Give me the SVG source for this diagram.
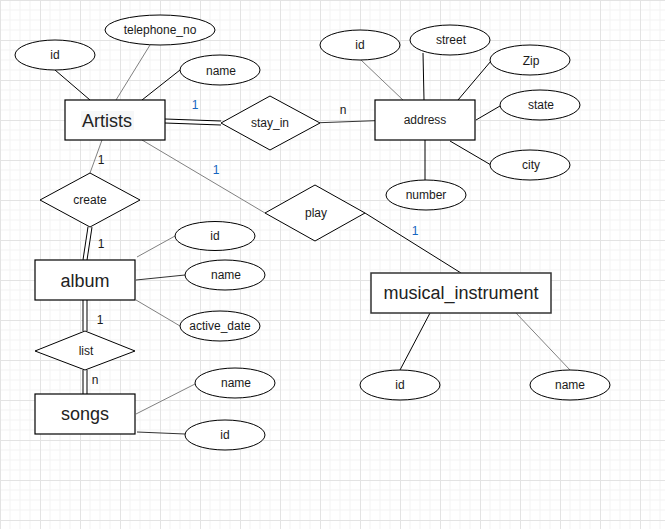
<svg xmlns="http://www.w3.org/2000/svg" width="665" height="529" viewBox="0 0 665 529">
<defs>
<pattern id="grid" x="0" y="0" width="40" height="40" patternUnits="userSpaceOnUse">
<rect width="40" height="40" fill="#ffffff"/>
<path d="M10 0V40M20 0V40M30 0V40M0 10H40M0 20H40M0 30H40" stroke="#f3f3f3" stroke-width="1" fill="none"/>
<path d="M0.5 0V40M0 0.5H40" stroke="#e3e3e3" stroke-width="1" fill="none"/>
</pattern>
<style>
text{font-family:"Liberation Sans",Arial,sans-serif;text-anchor:middle;dominant-baseline:central;fill:#1a1a1a}
.attr ellipse{fill:#fff;stroke:#000;stroke-width:1}
.attr text{font-size:12px}
.ent rect{fill:#fff;stroke:#000;stroke-width:1.2}
.ent text{font-size:18px;fill:#222}
.ent rect.hl{fill:#f6f7f8;stroke:none}
.rel polygon{fill:#fff;stroke:#000;stroke-width:1}
.rel text{font-size:12px}
.b{stroke:#000;stroke-width:1;fill:none}
.g{stroke:#808080;stroke-width:1;fill:none}
.d{stroke:#333;stroke-width:1;fill:none}
.dbo{stroke:#000;stroke-width:5;fill:none}
.dbi{stroke:#fff;stroke-width:3;fill:none}
.lbl{font-size:12px}
.blue{fill:#1565c0}
</style>
</defs>
<rect width="665" height="529" fill="url(#grid)"/>

<g id="connectors">
<line class="b" x1="55" y1="70" x2="90" y2="100"/>
<line class="g" x1="150" y1="45" x2="116" y2="100"/>
<line class="b" x1="180" y1="70" x2="142" y2="100"/>
<path class="dbo" d="M165 121L221 123"/>
<path class="dbi" d="M165 121L221 123"/>
<line class="d" x1="320" y1="122.7" x2="375" y2="120.7"/>
<line class="g" x1="361" y1="60" x2="403" y2="100"/>
<line class="b" x1="423" y1="53" x2="424" y2="100"/>
<line class="b" x1="491" y1="61" x2="458" y2="100"/>
<line class="b" x1="500" y1="106" x2="476" y2="120"/>
<line class="b" x1="450" y1="141" x2="491" y2="165"/>
<line class="b" x1="425" y1="140" x2="425" y2="180"/>
<line class="g" x1="102" y1="140" x2="90" y2="173"/>
<line class="g" x1="142" y1="140" x2="265" y2="213"/>
<line class="b" x1="365" y1="213" x2="461" y2="273"/>
<path class="dbo" d="M90 227L85 260"/>
<path class="dbi" d="M90 227L85 260"/>
<line class="g" x1="137" y1="257" x2="175" y2="236"/>
<line class="d" x1="136" y1="280" x2="185" y2="275"/>
<line class="g" x1="136" y1="300" x2="180" y2="326"/>
<path class="dbo" d="M85 300L85 331"/>
<path class="dbi" d="M85 300L85 331"/>
<path class="dbo" d="M85 370L85 394"/>
<path class="dbi" d="M85 370L85 394"/>
<line class="g" x1="136" y1="414" x2="195" y2="384"/>
<line class="d" x1="137" y1="432" x2="185" y2="434"/>
<line class="b" x1="430" y1="313" x2="400" y2="370"/>
<line class="g" x1="516" y1="313" x2="570" y2="370"/>
<text class="lbl blue" x="195" y="105">1</text>
<text class="lbl" x="343" y="110">n</text>
<text class="lbl" x="101" y="160">1</text>
<text class="lbl blue" x="216" y="170">1</text>
<text class="lbl blue" x="415" y="231">1</text>
<text class="lbl" x="101" y="244">1</text>
<text class="lbl" x="100" y="320">1</text>
<text class="lbl" x="95" y="380">n</text>
</g>

<g id="artists" class="ent"><rect x="65" y="100" width="100" height="40"/><rect class="hl" x="81" y="111" width="53" height="19"/><text x="107" y="121">Artists</text></g>
<g id="artists_id" class="attr"><ellipse cx="55" cy="55" rx="40" ry="15"/><text x="55" y="55">id</text></g>
<g id="artists_telephone" class="attr"><ellipse cx="160" cy="30" rx="55" ry="15"/><text x="160" y="30">telephone_no</text></g>
<g id="artists_name" class="attr"><ellipse cx="220" cy="70" rx="40" ry="15"/><text x="221" y="71">name</text></g>

<g id="stay_in" class="rel"><polygon points="221,123 270,96 320,123 270,150"/><text x="270" y="123">stay_in</text></g>

<g id="address" class="ent"><rect x="375" y="100" width="100" height="40"/><text x="425" y="120" style="font-size:12px">address</text></g>
<g id="address_id" class="attr"><ellipse cx="360" cy="45" rx="40" ry="15"/><text x="360" y="45">id</text></g>
<g id="address_street" class="attr"><ellipse cx="450" cy="40" rx="40" ry="15"/><text x="451" y="40">street</text></g>
<g id="address_zip" class="attr"><ellipse cx="530" cy="60" rx="40" ry="15"/><text x="531" y="61">Zip</text></g>
<g id="address_state" class="attr"><ellipse cx="540" cy="105" rx="40" ry="15"/><text x="541" y="105">state</text></g>
<g id="address_city" class="attr"><ellipse cx="530" cy="165" rx="40" ry="15"/><text x="531" y="165">city</text></g>
<g id="address_number" class="attr"><ellipse cx="426" cy="195" rx="40" ry="15"/><text x="426" y="195">number</text></g>

<g id="create" class="rel"><polygon points="40,200 90,173 140,200 90,227"/><text x="90" y="200">create</text></g>
<g id="play" class="rel"><polygon points="265,213 315,185 365,213 315,241"/><text x="316" y="213">play</text></g>

<g id="album" class="ent"><rect x="35" y="260" width="100" height="40"/><text x="85" y="281">album</text></g>
<g id="album_id" class="attr"><ellipse cx="215" cy="236" rx="40" ry="14.5"/><text x="215" y="236">id</text></g>
<g id="album_name" class="attr"><ellipse cx="225" cy="275" rx="40" ry="15"/><text x="226" y="275">name</text></g>
<g id="album_active_date" class="attr"><ellipse cx="220" cy="326" rx="40" ry="15"/><text x="220" y="326">active_date</text></g>

<g id="list" class="rel"><polygon points="35,351 85,331 135,351 85,370"/><text x="86" y="351">list</text></g>

<g id="songs" class="ent"><rect x="35" y="394" width="100" height="40"/><text x="85" y="414">songs</text></g>
<g id="songs_name" class="attr"><ellipse cx="235" cy="383" rx="40" ry="15"/><text x="236" y="383">name</text></g>
<g id="songs_id" class="attr"><ellipse cx="225" cy="435" rx="40" ry="15"/><text x="225" y="435">id</text></g>

<g id="musical_instrument" class="ent"><rect x="371" y="273" width="180" height="40" style="stroke:#333;stroke-width:1.5"/><text x="461" y="293">musical_instrument</text></g>
<g id="mi_id" class="attr"><ellipse cx="400" cy="385" rx="40" ry="15"/><text x="400" y="385">id</text></g>
<g id="mi_name" class="attr"><ellipse cx="570" cy="385" rx="40" ry="15"/><text x="570" y="385">name</text></g>
</svg>
